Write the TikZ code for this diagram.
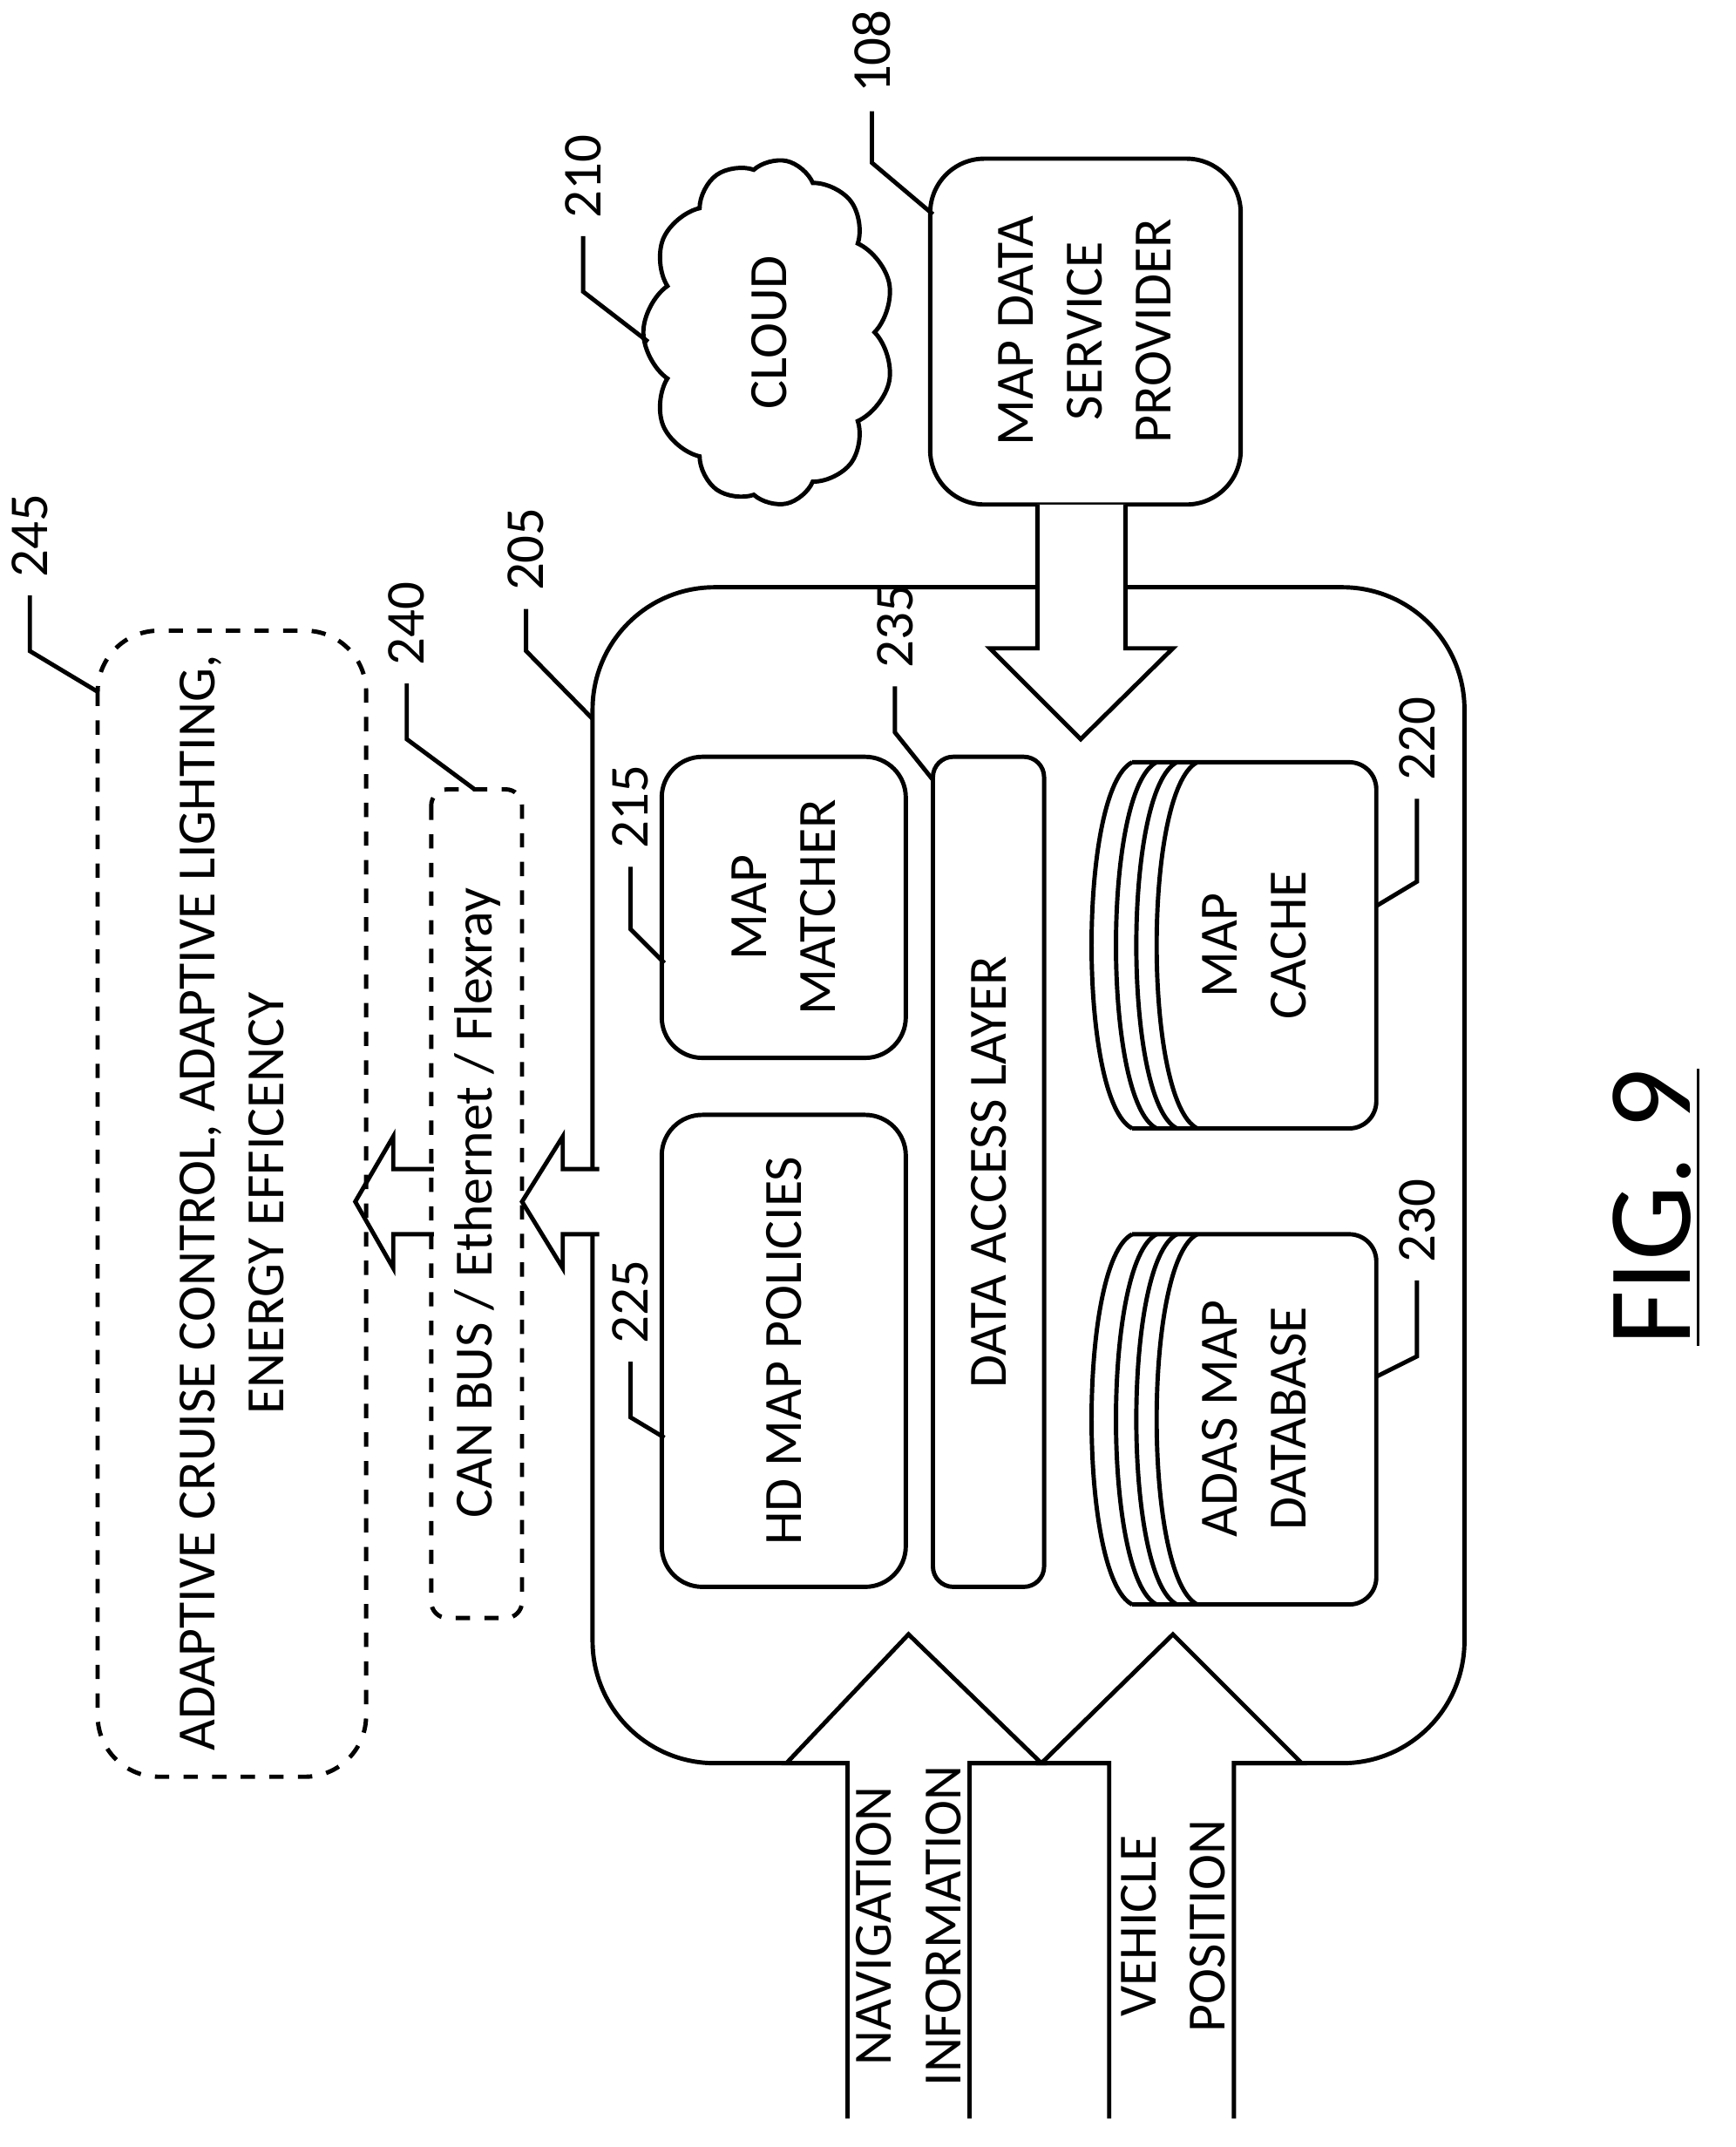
\documentclass[tikz,border=0pt]{standalone}
\usepackage{fontspec}
\setmainfont{Carlito}
\usetikzlibrary{shapes.symbols}
\begin{document}
\begin{tikzpicture}[x=0.01cm,y=-0.01cm,line width=0.9pt,
  lbl/.style={rotate=90,font=\fontsize{11.3}{14.5}\selectfont,align=center},
  num/.style={rotate=90,font=\fontsize{11.5}{14}\selectfont},
  box/.style={draw,rounded corners=0.3cm},
  arr/.style={draw,fill=white}]
\useasboundingbox (0,0) rectangle (1280,1583);
% main box
\draw[rounded corners=0.9cm] (437,433) rectangle (1080,1300);
\coordinate (main) at (437,530);
% inner boxes
\draw[box] (488,822) rectangle (668,1170);
\node[lbl] (hd) at (578,996) {HD MAP POLICIES};
\draw[box] (488,558) rectangle (668,780);
\node[lbl] (mm) at (578,669) {MAP\\MATCHER};
\draw[rounded corners=0.15cm] (688,558) rectangle (770,1170);
\node[lbl] (dal) at (729,864) {DATA ACCESS LAYER};
% cylinders
\foreach \yt/\yb/\n in {562/832/cache,910/1183/adas}{
  \draw[rounded corners=0.2cm] (835,\yt) -- (1015,\yt) -- (1015,\yb) -- (835,\yb);
  \foreach \xo in {835,853,868,883}{
    \draw (\xo,\yt) .. controls (\xo-40,\yt+20) and (\xo-40,\yb-20) .. (\xo,\yb);}
}
\node[lbl] (cache) at (925,697) {MAP\\CACHE};
\node[lbl] (adas) at (925,1046) {ADAS MAP\\DATABASE};
% cloud
\node[cloud,draw,cloud puffs=11,cloud puff arc=110,aspect=1.3,minimum width=2.55cm,minimum height=1.85cm,rotate=90,font=\fontsize{11.3}{14}\selectfont] (cloud) at (567,245) {CLOUD};
% provider
\draw[rounded corners=0.4cm] (686,117) rectangle (915,372);
\node[lbl] (mdsp) at (800,244) {MAP DATA\\SERVICE\\PROVIDER};
% big down arrow
\path[arr] (765,372) -- (765,478) -- (730,478) -- (797,545) -- (865,478) -- (830,478) -- (830,372);
% left arrows
\path[arr] (442,862) -- (415,862) -- (415,838) -- (385,886) -- (415,935) -- (415,910) -- (442,910);
\path[arr] (320,862) -- (290,862) -- (290,838) -- (262,886) -- (290,935) -- (290,910) -- (320,910);
% dashed boxes
\draw[dashed,rounded corners=0.12cm] (318,582) rectangle (385,1193);
\node[lbl] (can) at (352,887) {CAN BUS / Ethernet / Flexray};
\draw[dashed,rounded corners=0.45cm] (72,465) rectangle (270,1310);
\node[lbl] (acc) at (171,887) {ADAPTIVE CRUISE CONTROL, ADAPTIVE LIGHTING,\\ENERGY EFFICENCY};
% up arrows
\path[arr] (625,1562) -- (625,1300) -- (580,1300) -- (670,1205) -- (768,1300) -- (715,1300) -- (715,1562);
\path[arr] (818,1562) -- (818,1300) -- (768,1300) -- (865,1205) -- (960,1300) -- (910,1300) -- (910,1562);
\node[lbl] (nav) at (670,1420) {NAVIGATION\\INFORMATION};
\node[lbl] (vp) at (865,1420) {VEHICLE\\POSITION};
% reference numbers
\node[num] (n108) at (643,38) {108};
\draw (n108.west) -- (643,120) -- (688,158);
\node[num] (n210) at (430,130) {210};
\draw (n210.west) -- (430,215) -- (478,252);
\node[num] (n205) at (388,405) {205};
\draw (n205.west) -- (388,480) -- (main);
\node[num] (n235) at (660,462) {235};
\draw (n235.west) -- (660,540) -- (688,575);
\node[num] (n215) at (465,595) {215};
\draw (n215.west) -- (465,685) -- (490,710);
\node[num] (n225) at (465,960) {225};
\draw (n225.west) -- (465,1045) -- (490,1060);
\node[num] (n220) at (1045,545) {220};
\draw (n220.west) -- (1045,650) -- (1015,668);
\node[num] (n230) at (1045,900) {230};
\draw (n230.west) -- (1045,1000) -- (1015,1015);
\node[num] (n240) at (300,460) {240};
\draw (n240.west) -- (300,545) -- (350,582);
\node[num] (n245) at (22,395) {245};
\draw (n245.west) -- (22,480) -- (72,510);
\node[rotate=90,font=\fontsize{25}{30}\selectfont] (fig) at (1222,890) {\underline{FIG. 9}};
\end{tikzpicture}
\end{document}
